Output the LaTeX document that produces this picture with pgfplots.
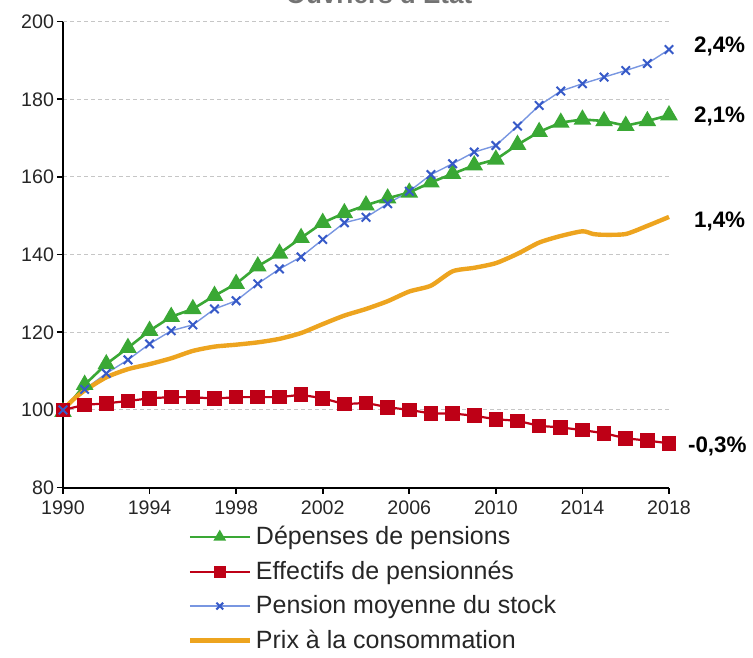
\documentclass[border=0pt]{standalone}
\usepackage{fontspec}
\setmainfont{Liberation Sans}
\usepackage{pgfplots}
\pgfplotsset{compat=1.18}

\definecolor{cGreen}{RGB}{58,168,53}
\definecolor{cRed}{RGB}{190,0,22}
\definecolor{cBlueL}{RGB}{120,150,225}
\definecolor{cBlue}{RGB}{55,90,200}
\definecolor{cOrange}{RGB}{237,164,31}

\begin{document}
\begin{tikzpicture}
\begin{axis}[
    scale only axis,
    width=303pt, height=233pt,
    xmin=1990, xmax=2018,
    ymin=80, ymax=200,
    xtick={1990,1994,...,2018},
    ytick={80,100,...,200},
    axis lines=left,
    axis line style={-, line width=1pt},
    tick align=outside,
    major tick length=3pt,
    tick style={black, line width=0.8pt},
    ymajorgrids,
    grid style={gray!45, dash pattern=on 2pt off 1.5pt, line width=0.5pt},
    /pgf/number format/1000 sep={},
    /pgf/number format/assume math mode=true,
    tick label style={font=\fontsize{9.8}{11}\selectfont, text=black!85},
    yticklabel style={xshift=2pt},
    clip=false,
    legend cell align=left,
    legend style={draw=none, fill=none, at={(0.195,-0.065)}, anchor=north west,
        font=\fontsize{12.5}{14}\selectfont, text=black!85, row sep=2.6pt},
    legend image code/.code={\draw[mark repeat=2,mark phase=2,#1] plot coordinates {(0pt,0pt) (15pt,0pt) (30pt,0pt)};},
    legend image post style={mark size=2.4pt},
]
\coordinate (O) at (rel axis cs:0,0);

\addplot[cGreen, line width=1.3pt, mark=triangle*, mark size=3.8pt, mark options={fill=cGreen}]
coordinates {
(1990,99.5)(1991,106.5)(1992,111.8)(1993,116)(1994,120.4)(1995,124)(1996,126)
(1997,129.4)(1998,132.5)(1999,137)(2000,140.3)(2001,144.3)(2002,148.2)(2003,150.7)
(2004,152.7)(2005,154.5)(2006,156)(2007,158.6)(2008,160.8)(2009,163)(2010,164.5)
(2011,168.3)(2012,171.6)(2013,174)(2014,174.8)(2015,174.4)(2016,173.2)(2017,174.4)(2018,175.9)
};
\addlegendentry{Dépenses de pensions}

\addplot[cRed, line width=1.1pt, mark=square*, mark size=3.1pt, mark options={fill=cRed}]
coordinates {
(1990,100)(1991,101.3)(1992,101.7)(1993,102.3)(1994,103)(1995,103.3)(1996,103.3)
(1997,102.9)(1998,103.3)(1999,103.3)(2000,103.3)(2001,103.9)(2002,103.0)(2003,101.5)
(2004,101.8)(2005,100.7)(2006,100)(2007,99.1)(2008,99.1)(2009,98.5)(2010,97.6)
(2011,97.2)(2012,95.9)(2013,95.5)(2014,94.8)(2015,94)(2016,92.7)(2017,92.1)(2018,91.4)
};
\addlegendentry{Effectifs de pensionnés}

\addplot[cBlueL, line width=0.7pt, mark=x, mark size=3pt, mark options={draw=cBlue, line width=1pt}]
coordinates {
(1990,100)(1991,105.3)(1992,109.4)(1993,112.9)(1994,117)(1995,120.4)(1996,121.9)
(1997,126)(1998,128.1)(1999,132.5)(2000,136.3)(2001,139.4)(2002,143.9)(2003,148.2)
(2004,149.6)(2005,153.1)(2006,156.3)(2007,160.6)(2008,163.4)(2009,166.4)(2010,168.1)
(2011,173.1)(2012,178.4)(2013,182.1)(2014,184)(2015,185.7)(2016,187.4)(2017,189.2)(2018,192.8)
};
\addlegendentry{Pension moyenne du stock}

\addplot[cOrange, line width=2.2pt, smooth, tension=0.4]
coordinates {
(1990,100)(1990.5,102.8)(1991,105)(1992,108.4)(1993,110.5)(1994,111.8)(1995,113.3)
(1996,115.2)(1997,116.3)(1998,116.8)(1999,117.4)(2000,118.3)(2001,119.8)(2002,122.1)
(2003,124.3)(2004,126.0)(2005,128.0)(2006,130.5)(2007,132.0)(2008,135.7)(2009,136.6)
(2010,137.8)(2011,140.2)(2012,143.1)(2013,144.8)(2014,146.0)(2014.5,145.3)(2015,145.1)
(2016,145.3)(2017,147.4)(2018,149.7)
};
\addlegendentry{Prix à la consommation}

\node[anchor=west, font=\fontsize{11.2}{13}\selectfont\bfseries] at (axis cs:2018,193.5) [xshift=9pt] {2,4\%};
\node[anchor=west, font=\fontsize{11.2}{13}\selectfont\bfseries] at (axis cs:2018,175.7) [xshift=9pt] {2,1\%};
\node[anchor=west, font=\fontsize{11.2}{13}\selectfont\bfseries] at (axis cs:2018,148.6) [xshift=9pt] {1,4\%};
\node[anchor=west, font=\fontsize{11.2}{13}\selectfont\bfseries] at (axis cs:2018,90.5) [xshift=6pt] {-0,3\%};
\end{axis}
\node[anchor=base, font=\fontsize{13}{15}\selectfont\bfseries, text=black!55] at ([shift={(158pt,242pt)}]O) {Ouvriers d'Etat};
\pgfresetboundingbox
\useasboundingbox ([shift={(-31.5pt,-84.7pt)}]O) rectangle ([shift={(345pt,243.8pt)}]O);
\end{tikzpicture}
\end{document}
